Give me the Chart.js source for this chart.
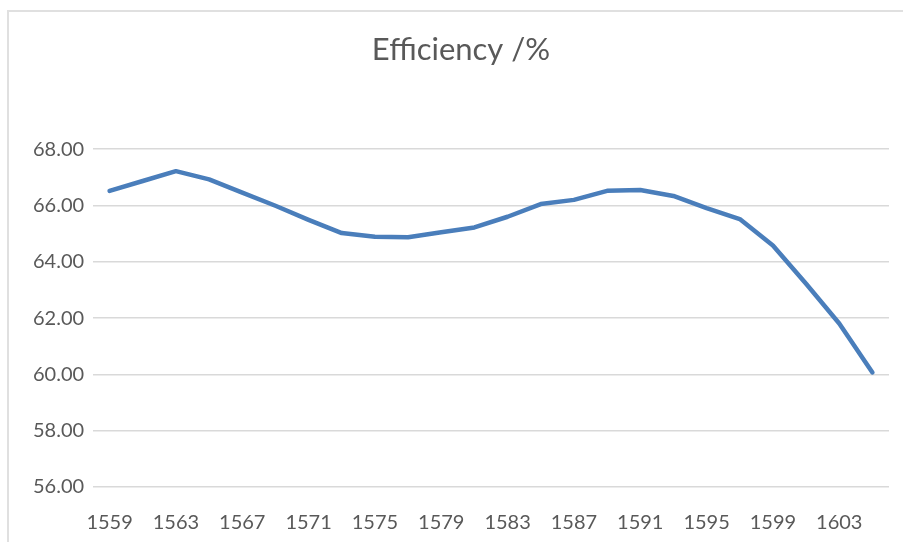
<!DOCTYPE html>
<html>
<head>
<meta charset="utf-8">
<script src="https://cdn.jsdelivr.net/npm/chart.js@4"></script>
<style>
  body { margin: 0; background: #fff; overflow: hidden; }
  #wrap { position: relative; width: 903px; height: 542px; }
  #frame { position: absolute; left: 7px; top: 10px; width: 1000px; height: 600px;
           border-left: 2px solid #e0e0e0; border-top: 2px solid #e0e0e0; }
  canvas { position: absolute; left: 0; top: 0; }
</style>
</head>
<body>
<div id="wrap">
  <div id="frame"></div>
  <canvas id="chart"></canvas>
</div>
<script>
const years = ['1559','1561','1563','1565','1567','1569','1571','1573','1575','1577','1579','1581',
               '1583','1585','1587','1589','1591','1593','1595','1597','1599','1601','1603','1605'];
const efficiency = [66.52, 66.87, 67.22, 66.93, 66.46, 65.99, 65.49, 65.02, 64.89, 64.87, 65.05, 65.22,
                    65.60, 66.05, 66.20, 66.52, 66.55, 66.34, 65.91, 65.52, 64.58, 63.22, 61.81, 60.07];
const yMin = 56, yMax = 68, yStep = 2;
const labelEvery = 2;
const chartTitle = 'Efficiency /%';

const fontFamily = 'Lato, "Open Sans", sans-serif';
const textColor = '#595959';

new Chart(document.getElementById('chart'), {
  type: 'line',
  data: {
    labels: years,
    datasets: [{
      label: 'Efficiency',
      data: efficiency,
      borderColor: '#4a7ebb',
      borderWidth: 4.5,
      pointRadius: 0,
      tension: 0,
      borderJoinStyle: 'round',
      borderCapStyle: 'round',
      fill: false
    }]
  },
  options: {
    responsive: true,
    maintainAspectRatio: false,
    animation: false,
    // left padding pushes the centred title over to where Excel put it
    layout: { padding: { left: 33, right: 14, top: 0, bottom: 0 } },
    plugins: {
      legend: { display: false },
      tooltip: { enabled: false },
      title: {
        display: true,
        text: chartTitle,
        color: textColor,
        font: { family: fontFamily, size: 31, weight: 'normal' },
        padding: { top: 31, bottom: 81 }
      }
    },
    scales: {
      x: {
        offset: true,
        grid: { display: false },
        border: { display: false },
        ticks: {
          autoSkip: false,
          maxRotation: 0,
          padding: 16,
          color: textColor,
          font: { family: fontFamily, size: 20 },
          callback: function (val, i) { return i % labelEvery === 0 ? years[i] : ''; }
        },
        afterFit: function (axis) { axis.height = 55; }
      },
      y: {
        min: yMin,
        max: yMax,
        border: { display: false },
        grid: { color: '#d9d9d9', lineWidth: 1.5, drawTicks: false },
        ticks: {
          stepSize: yStep,
          crossAlign: 'far',
          color: textColor,
          font: { family: fontFamily, size: 20 },
          callback: function (v) { return v.toFixed(2); }
        },
        afterFit: function (axis) { axis.width = 60; }
      }
    }
  }
});
</script>
</body>
</html>
